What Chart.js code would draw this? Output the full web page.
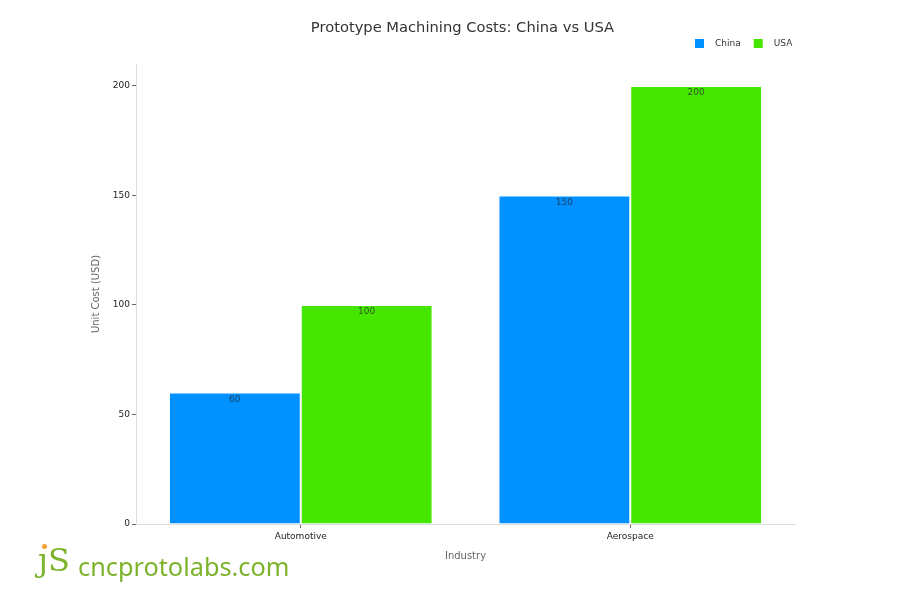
<!DOCTYPE html>
<html><head><meta charset="utf-8">
<script src="https://cdn.jsdelivr.net/npm/chart.js@4.4.1/dist/chart.umd.min.js"></script>
<style>
html,body{margin:0;padding:0;background:#fff;}
#wrap{position:relative;width:900px;height:600px;}
#logo{color:#7cb32b;white-space:nowrap;}
#logo span{position:absolute;display:block;}
#logo .js{left:38px;top:538px;font-family:"DejaVu Serif","Liberation Serif",serif;font-size:32px;line-height:44px;}
#logo .dot{left:42px;top:544px;width:5px;height:5px;border-radius:50%;background:#f0a030;}
#logo .site{left:78px;top:546px;font-family:"Noto Sans","Open Sans",sans-serif;font-size:25.3px;line-height:40px;}
</style></head>
<body><div id="wrap"><canvas id="c" width="900" height="600"></canvas>
<div id="logo"><span class="js">ȷS</span><span class="dot"></span><span class="site">cncprotolabs.com</span></div></div>
<script>
const titleText = "Prototype Machining Costs: China vs USA";
const categories = ["Automotive", "Aerospace"];
const chinaValues = [60, 150];
const usaValues = [100, 200];
const seriesNames = ["China", "USA"];
const seriesColors = ["#0090ff", "#45e600"];
const yTicks = [0, 50, 100, 150, 200];
const yTitle = "Unit Cost (USD)";
const xTitle = "Industry";

const font = "'DejaVu Sans', Verdana, sans-serif";

const titlePlugin = {
  id: 'titleDraw',
  afterDraw(chart) {
    const ctx = chart.ctx; const a = chart.chartArea;
    ctx.save();
    ctx.font = "14.7px " + font;
    ctx.fillStyle = "#333";
    ctx.textAlign = "center"; ctx.textBaseline = "middle";
    ctx.fillText(titleText, (a.left + a.right) / 2 - 3, 28);
    // legend
    ctx.font = "9px " + font;
    ctx.textAlign = "left";
    let x = 695;
    chart.data.datasets.forEach((ds) => {
      ctx.fillStyle = ds.backgroundColor;
      ctx.fillRect(x, 39, 9, 9);
      ctx.fillStyle = "#333";
      ctx.fillText(ds.label, x + 20, 43.5);
      x += 20 + ctx.measureText(ds.label).width + 13;
    });
    ctx.restore();
  }
};
const labelPlugin = {
  id: 'barLabels',
  afterDatasetsDraw(chart) {
    const ctx = chart.ctx;
    ctx.save();
    ctx.font = "9px " + font;
    ctx.fillStyle = "rgba(40,40,40,0.75)";
    ctx.textAlign = "center"; ctx.textBaseline = "middle";
    chart.data.datasets.forEach((ds, i) => {
      chart.getDatasetMeta(i).data.forEach((bar, j) => {
        ctx.fillText(String(ds.data[j]), bar.x, bar.y + 7);
      });
    });
    ctx.restore();
  }
};

new Chart(document.getElementById('c'), {
  type: 'bar',
  data: {
    labels: categories,
    datasets: [
      { label: seriesNames[0], data: chinaValues, backgroundColor: seriesColors[0], borderColor: 'rgba(255,255,255,0.7)', borderWidth: 1 },
      { label: seriesNames[1], data: usaValues, backgroundColor: seriesColors[1], borderColor: 'rgba(255,255,255,0.7)', borderWidth: 1 }
    ]
  },
  plugins: [titlePlugin, labelPlugin],
  options: {
    responsive: false,
    animation: false,
    layout: { padding: { left: 86, right: 105, top: 64, bottom: 34 } },
    datasets: { bar: { categoryPercentage: 0.8, barPercentage: 1.0 } },
    plugins: {
      title: { display: false },
      tooltip: { enabled: false },
      legend: { display: false }
    },
    scales: {
      x: {
        afterFit: s => { s.height = 42; },
        grid: { offset: false, drawOnChartArea: false, drawTicks: true, tickLength: 4, color: '#666' },
        border: { display: true, color: '#ddd' },
        ticks: { padding: 3, color: '#222', font: { family: font, size: 9 } },
        title: { display: true, text: xTitle, color: '#666', font: { family: font, size: 10 }, padding: { top: 0, bottom: 4 } }
      },
      y: {
        min: 0, max: 210,
        afterFit: s => { s.width = 50; },
        afterBuildTicks: s => { s.ticks = s.ticks.filter(t => yTicks.includes(t.value)); },
        grid: { drawOnChartArea: false, drawTicks: true, tickLength: 4, color: '#666' },
        border: { display: true, color: '#ddd' },
        ticks: { stepSize: 50, padding: 2, color: '#222', font: { family: font, size: 9 } },
        title: { display: true, text: yTitle, color: '#666', font: { family: font, size: 10 }, padding: { top: 4, bottom: 0 } }
      }
    }
  }
});
</script></body></html>
